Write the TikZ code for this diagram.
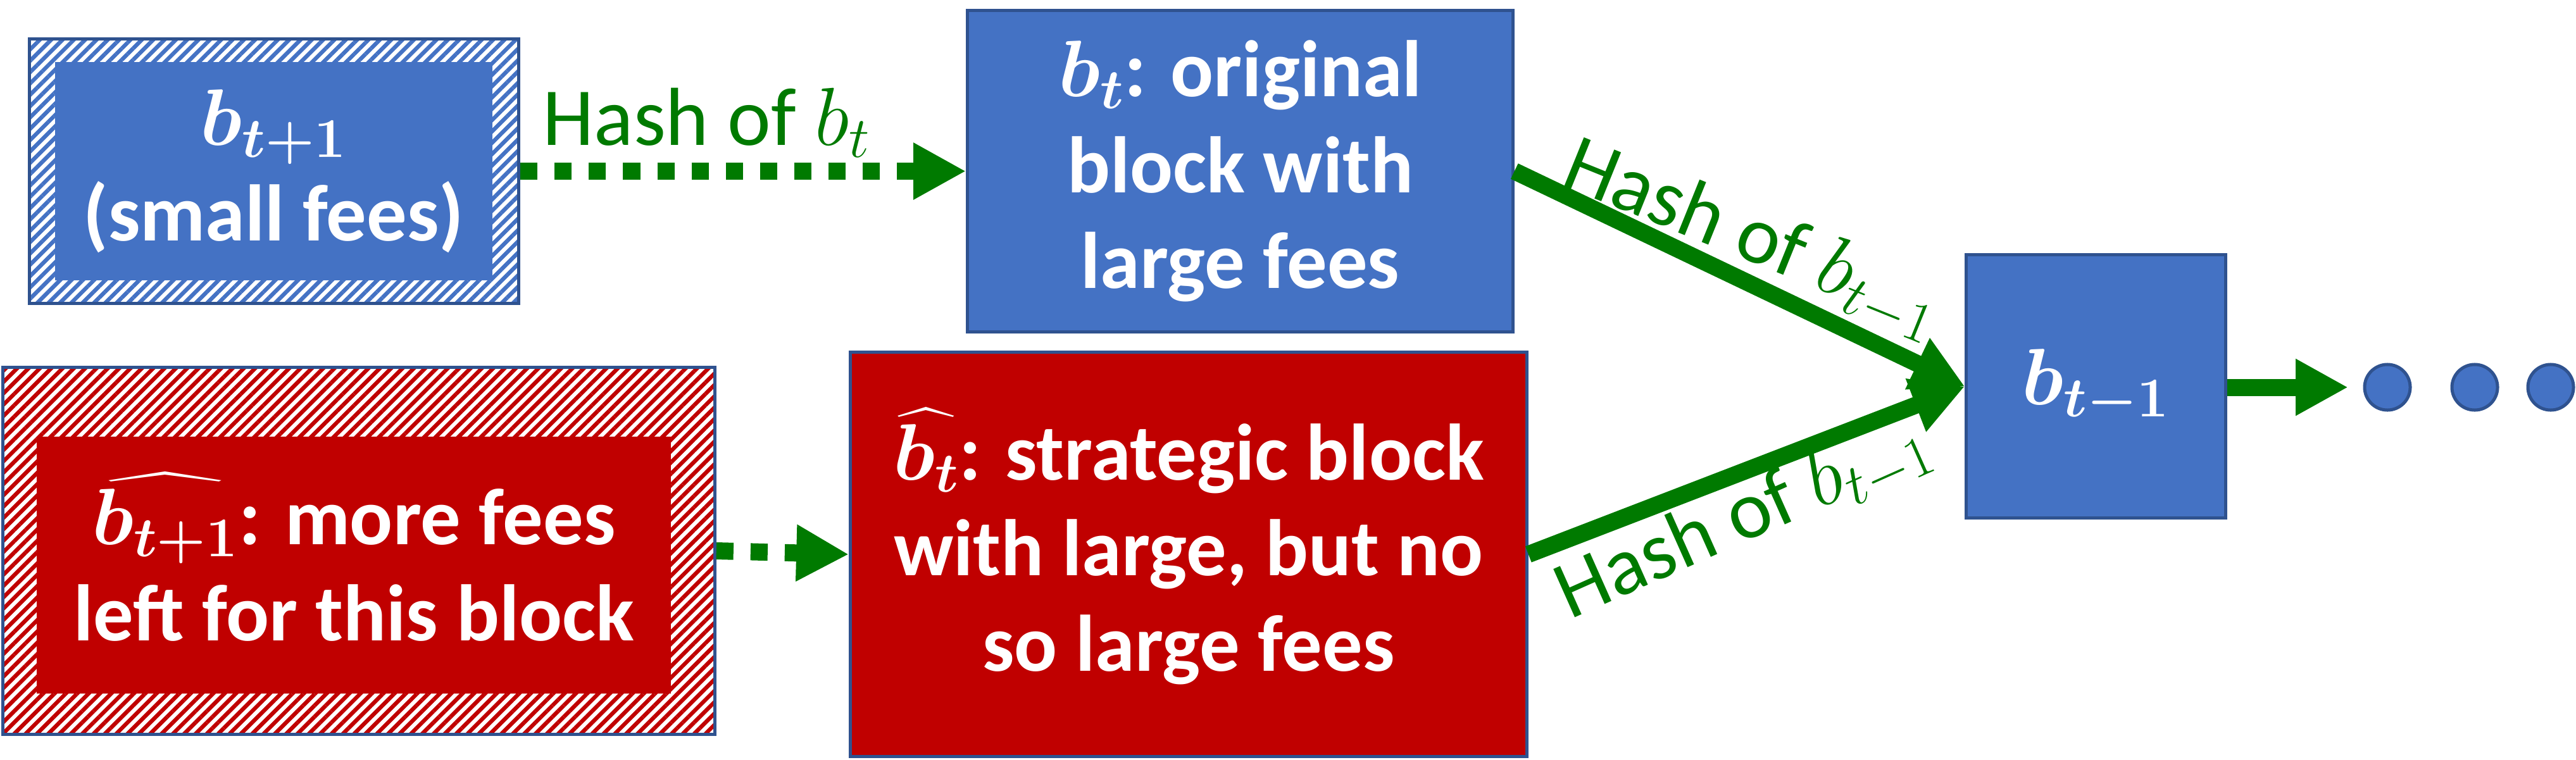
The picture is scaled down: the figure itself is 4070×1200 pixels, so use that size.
\RequirePackage{fix-cm}
\documentclass[tikz,border=0pt]{standalone}
\usepackage[no-math]{fontspec}
\setmainfont{Carlito}
\usepackage{exscale}
\usepackage{bm}
\usepackage{graphicx}
\usetikzlibrary{arrows.meta,patterns.meta}
\definecolor{blockblue}{HTML}{4472C4}
\definecolor{blockred}{HTML}{C00000}
\definecolor{bordc}{HTML}{2F528F}
\definecolor{arrgreen}{RGB}{0,122,0}
\newcommand{\bxfont}{\bfseries\fontsize{36}{43}\selectfont}
\newcommand{\lbfont}{\fontsize{37}{44}\selectfont}
\newcommand{\flathat}[2]{\ooalign{$#2$\cr\hidewidth\scalebox{#1}[1]{$\widehat{\vphantom{\bm{b}}\hphantom{\bm{b}}}$}\hidewidth\cr}}
\begin{document}
\begin{tikzpicture}[x=0.01cm,y=-0.01cm,
  blk/.style={draw=bordc, line width=0.05cm, inner sep=0pt, text=white, align=center, font=\bxfont},
  blueblk/.style={blk, fill=blockblue},
  redblk/.style={blk, fill=blockred},
  hatchbox/.style={draw=bordc, line width=0.05cm, inner sep=0pt, preaction={fill=white},
     pattern={Lines[angle=45,distance=3.6pt,line width=1.8pt]}},
  innerbox/.style={inner sep=0pt, text=white, align=center, font=\bxfont},
  link/.style={draw=arrgreen, line width=0.27cm, -{Triangle[length=0.83cm,width=0.84cm]}},
  dotlink/.style={link, dash pattern=on 0.27cm off 0.27cm},
  lbl/.style={text=arrgreen, font=\lbfont, inner sep=0pt},
  ellipsisdot/.style={circle, draw=bordc, fill=blockblue, line width=0.05cm, minimum size=0.72cm, inner sep=0pt}
]
\fill[white] (0,0) rectangle (4070,1200);
\useasboundingbox (0,0) rectangle (4070,1200);

% hatched blue block b_{t+1}
\node[hatchbox, pattern color=blockblue, minimum width=7.72cm, minimum height=4.17cm] (bnext) at (433,270.5) {};
\node[innerbox, fill=blockblue, minimum width=6.91cm, minimum height=3.45cm] (bnextin) at (432.5,270.5) {$\bm{b_{t+1}}$\\(small fees)};

% original block b_t
\node[blueblk, minimum width=8.61cm, minimum height=5.07cm] (bt) at (1959.5,270.5) {$\bm{b_t}$: original\\block with\\large fees};

% hatched red block
\node[hatchbox, pattern color=blockred, minimum width=11.24cm, minimum height=5.79cm] (hnext) at (567,870.5) {};
\node[innerbox, fill=blockred, minimum width=10.02cm, minimum height=4.06cm] (hnextin) at (559,893) {\flathat{3.6}{\bm{b_{t+1}}}: more fees\\left for this block};

% strategic block
\node[redblk, minimum width=10.68cm, minimum height=6.38cm] (bhat) at (1878,876) {\flathat{1.8}{\bm{b_t}}: strategic block\\with large, but no\\so large fees};

% b_{t-1}
\node[blueblk, minimum width=4.09cm, minimum height=4.15cm] (bprev) at (3311.5,610.5) {$\bm{b_{t-1}}$};

% dots
\node[ellipsisdot] (d1) at (3772,612) {};
\node[ellipsisdot] (d2) at (3910,612) {};
\node[ellipsisdot] (d3) at (4030,612) {};
\coordinate (cont) at (3710,612);

% connectors
\draw[dotlink] (bnext.east) -- (bt.west);
\draw[dotlink] (hnext.east) -- (bhat.west);
\draw[link] (bt.east) -- (bprev.west);
\draw[link] (bhat.east) -- (bprev.west);
\draw[link] (bprev.east |- cont) -- (cont);

% labels
\node[lbl, anchor=base west] (l1) at (857,229) {Hash of $b_t$};
\node[lbl, anchor=base west, rotate=-22] (l2) at (2463,291) {Hash of $b_{t-1}$};
\node[lbl, anchor=base west, rotate=24] (l3) at (2480,980) {Hash of $b_{t-1}$};
\end{tikzpicture}
\end{document}
